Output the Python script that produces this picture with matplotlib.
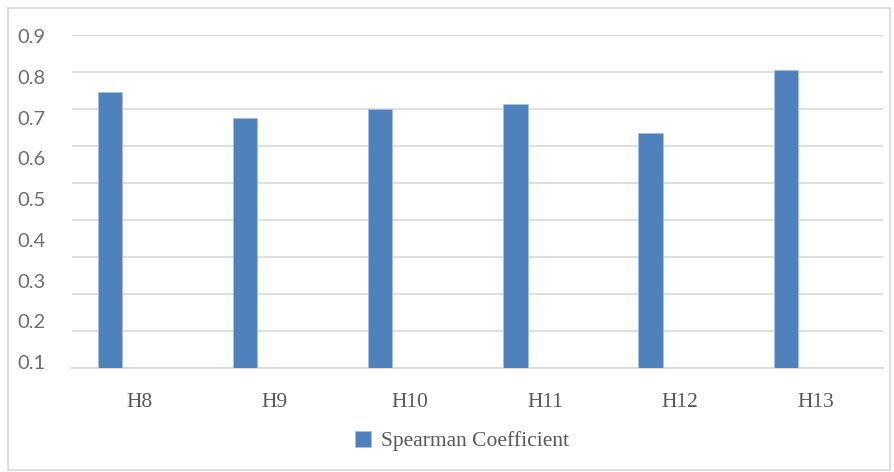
import numpy as np
import matplotlib.pyplot as plt
from matplotlib.patches import Rectangle

# chart data
categories = ["H8", "H9", "H10", "H11", "H12", "H13"]
spearman = [0.747, 0.675, 0.699, 0.713, 0.636, 0.805]
ytick_labels = ["0.1", "0.2", "0.3", "0.4", "0.5", "0.6", "0.7", "0.8", "0.9"]

BAR_COLOR = "#4f81bd"
GRID_COLOR = "#d9d9d9"
TEXT_COLOR = "#595959"

fig = plt.figure(figsize=(8.94, 4.72), dpi=100)
ax = fig.add_axes([72 / 894, (472 - 368) / 472, (883 - 72) / 894, (368 - 35) / 472])

# outer chart border
fig.patches.append(Rectangle((8 / 894, 2 / 472), 882 / 894, 462 / 472,
                             transform=fig.transFigure, fill=False,
                             edgecolor=GRID_COLOR, linewidth=1.2))

x = np.arange(len(categories))
ax.bar(x - 0.22, spearman, width=0.18, color=BAR_COLOR,
       edgecolor="#a7bfdc", linewidth=0.6, zorder=3,
       label="Spearman Coefficient")

ax.set_xlim(-0.5, len(categories) - 0.5)
ax.set_ylim(0, 0.9)

# gridlines every 0.1 (the picture has one more line than labels)
ax.set_yticks(np.arange(0, 0.91, 0.1), minor=True)
ax.grid(axis="y", which="minor", color=GRID_COLOR, linewidth=1.2, zorder=0)
ax.tick_params(axis="y", which="minor", length=0)

ax.set_yticks(np.linspace(0.016, 0.897, 9))
ax.set_yticklabels(ytick_labels, fontsize=14.5, color="#6e6e6e", family="Lato")
ax.tick_params(axis="y", which="major", length=0, pad=19)

ax.set_xticks(x)
ax.set_xticklabels(categories, fontsize=15.5, color=TEXT_COLOR, family="Liberation Serif")
ax.tick_params(axis="x", length=0, pad=18)

for s in ["top", "right", "left"]:
    ax.spines[s].set_visible(False)
ax.spines["bottom"].set_color(GRID_COLOR)
ax.spines["bottom"].set_linewidth(1.2)

leg = fig.legend(loc="center", bbox_to_anchor=(462 / 894, (472 - 441) / 472),
                 frameon=False, handlelength=0.75, handleheight=0.75,
                 handletextpad=0.45, prop={"family": "Liberation Serif", "size": 15.5})
for t in leg.get_texts():
    t.set_color(TEXT_COLOR)

fig.savefig("out.png", dpi=100)
